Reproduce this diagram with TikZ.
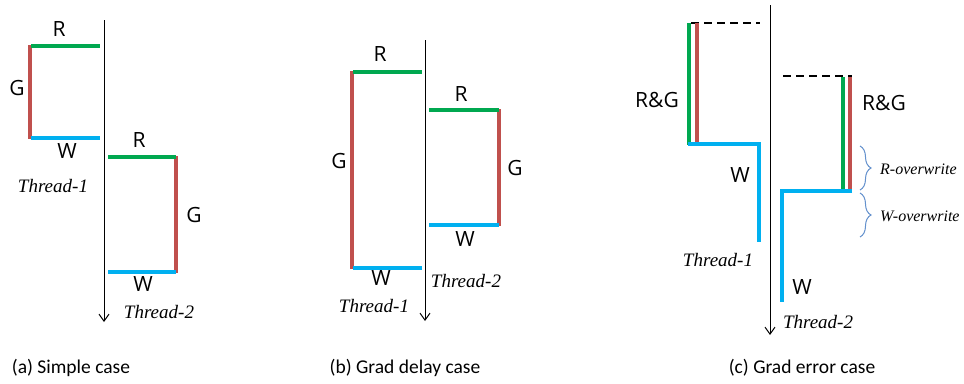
\documentclass[tikz,border=0pt]{standalone}
\usepackage{fontspec}
\setmainfont{Carlito}
\newfontfamily\opfont{Open Sans}
\newfontfamily\thfont{Liberation Serif}
\usetikzlibrary{arrows.meta,decorations.pathreplacing}
\definecolor{rgreen}{RGB}{0,168,80}
\definecolor{gred}{RGB}{192,80,77}
\definecolor{wblue}{RGB}{0,176,240}
\definecolor{brblue}{RGB}{100,145,205}
\tikzset{
  timeaxis/.style={black,line width=1pt,-{Straight Barb[length=7pt,width=10pt,line width=1pt]}},
  rline/.style={rgreen,line width=3.2pt},
  gline/.style={gred,line width=3.2pt},
  wline/.style={wblue,line width=3.2pt},
  pending/.style={black,line width=2.2pt,dash pattern=on 8pt off 5pt},
  oplabel/.style={font=\opfont\fontsize{21}{24}\selectfont,inner sep=0pt},
  thlabel/.style={font=\thfont\itshape\fontsize{19}{22}\selectfont,inner sep=0pt},
  caption/.style={font=\fontsize{19.5}{23}\selectfont,inner sep=0pt},
  owlabel/.style={font=\thfont\itshape\fontsize{16}{19}\selectfont,inner sep=0pt,anchor=west},
  owbrace/.style={brblue,line width=1pt,decorate,decoration={brace,amplitude=11pt}}
}
\begin{document}
\begin{tikzpicture}[x=1pt,y=-1pt]
\useasboundingbox[fill=white] (0,0) rectangle (964,383);

% ---------- (a) Simple case ----------
\coordinate (a-top) at (104,20);
\coordinate (a-end) at (104,322);
\draw[timeaxis] (a-top) -- (a-end);
% thread 1
\draw[gline] (30,45) -- (30,139);
\draw[rline] (31,46) -- (100,46);
\draw[wline] (31,138) -- (100,138);
\node[oplabel] (a1r) at (59,29) {R};
\node[oplabel] (a1g) at (17,88) {G};
\node[oplabel] (a1w) at (67,151) {W};
\node[thlabel] (a1t) at (53,186) {Thread-1};
% thread 2
\draw[gline] (176,156) -- (176,273);
\draw[rline] (108,157) -- (176,157);
\draw[wline] (108,272) -- (176,272);
\node[oplabel] (a2r) at (139,140) {R};
\node[oplabel] (a2g) at (194,215) {G};
\node[oplabel] (a2w) at (143,284) {W};
\node[thlabel] (a2t) at (159,312) {Thread-2};
\node[caption] (acap) at (71,368) {(a) Simple case};

% ---------- (b) Grad delay case ----------
\coordinate (b-top) at (425,40);
\coordinate (b-end) at (425,321);
\draw[timeaxis] (b-top) -- (b-end);
% thread 1
\draw[gline] (352,71) -- (352,269);
\draw[rline] (353,72) -- (422,72);
\draw[wline] (353,268) -- (422,268);
\node[oplabel] (b1r) at (380,54) {R};
\node[oplabel] (b1g) at (339,161) {G};
\node[oplabel] (b1w) at (381,278) {W};
\node[thlabel] (b1t) at (374,306) {Thread-1};
% thread 2
\draw[gline] (499,109) -- (499,226);
\draw[rline] (429,110) -- (499,110);
\draw[wline] (429,225) -- (499,225);
\node[oplabel] (b2r) at (461,94) {R};
\node[oplabel] (b2g) at (515,168) {G};
\node[oplabel] (b2w) at (465,239) {W};
\node[thlabel] (b2t) at (466,281) {Thread-2};
\node[caption] (bcap) at (405,368) {(b) Grad delay case};

% ---------- (c) Grad error case ----------
\coordinate (c-top) at (770,5);
\coordinate (c-end) at (770,335);
\draw[timeaxis] (c-top) -- (c-end);
% thread 1
\draw[pending] (691,23) -- (760,23);
\draw[rline] (689,23) -- (689,145);
\draw[gline] (697,23) -- (697,145);
\draw[wline] (688,144) -- (759,144) -- (759,242);
\node[oplabel] (c1rg) at (657,100) {R\&G};
\node[oplabel] (c1w) at (740,175) {W};
\node[thlabel] (c1t) at (718,260) {Thread-1};
% thread 2
\draw[pending] (783,76) -- (852,76);
\draw[rline] (843,77) -- (843,191);
\draw[gline] (850,77) -- (850,191);
\draw[wline] (852,191) -- (782,191) -- (782,302);
\node[oplabel] (c2rg) at (884,103) {R\&G};
\node[oplabel] (c2w) at (802,287) {W};
\node[thlabel] (c2t) at (818,322) {Thread-2};
% overwritten intervals
\draw[owbrace] (860,146) -- (860,190);
\node[owlabel] (crow) at (880,169) {R-overwrite};
\draw[owbrace] (860,193) -- (860,237);
\node[owlabel] (cwow) at (880,216) {W-overwrite};
\node[caption] (ccap) at (802,368) {(c) Grad error case};
\end{tikzpicture}
\end{document}
